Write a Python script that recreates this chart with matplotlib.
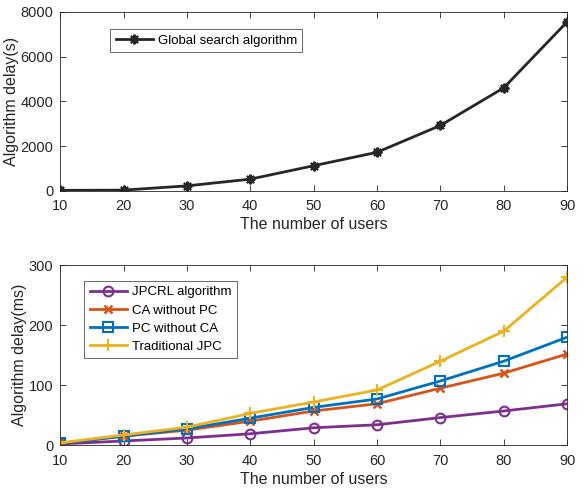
import matplotlib.pyplot as plt

users = [10, 20, 30, 40, 50, 60, 70, 80, 90]
global_search = [20, 30, 220, 520, 1120, 1720, 2920, 4600, 7550]

jpcrl = [2, 7, 12, 19, 29, 34, 46, 57, 69]
ca_without_pc = [3, 15, 25, 40, 57, 69, 95, 120, 152]
pc_without_ca = [3, 15, 27, 45, 63, 77, 107, 140, 180]
traditional_jpc = [4, 17, 30, 53, 72, 92, 140, 190, 280]

plt.rcParams['font.family'] = ['Liberation Sans Narrow', 'Liberation Sans', 'DejaVu Sans']

fig = plt.figure(figsize=(5.84, 4.93), dpi=100)
ax1 = fig.add_axes([0.103, 0.613, 0.868, 0.363])
ax2 = fig.add_axes([0.103, 0.097, 0.868, 0.365])


def estilo(ax):
    ax.tick_params(direction='in', top=True, right=True, length=4, width=0.6,
                   labelsize=10.5, colors='#262626')
    ax.tick_params(axis='x', pad=6)
    ax.tick_params(axis='y', pad=5)
    for s in ax.spines.values():
        s.set_linewidth(0.6)
        s.set_color('#262626')
    ax.set_xlim(10, 90)
    ax.set_xticks(users)
    ax.set_xlabel('The number of users', fontsize=11.5, color='#262626', labelpad=3)


ax1.plot(users, global_search, color='#262626', lw=2, marker=(8, 2, 0), ms=7,
         mew=1.5, label='Global search algorithm')
estilo(ax1)
ax1.set_ylim(0, 8000)
ax1.set_yticks([0, 2000, 4000, 6000, 8000])
ax1.set_ylabel('Algorithm delay(s)', fontsize=11.5, color='#262626', labelpad=1)
leg1 = ax1.legend(loc='upper left', bbox_to_anchor=(0.086, 0.94), fancybox=False,
                  edgecolor='#262626', fontsize=9.5, handlelength=2.8,
                  borderpad=0.4, handletextpad=0.4)
leg1.get_frame().set_linewidth(0.6)

ax2.plot(users, jpcrl, color='#7E2F8E', lw=2, marker='o', ms=7, mfc='none',
         mew=1.5, label='JPCRL algorithm')
ax2.plot(users, ca_without_pc, color='#D95319', lw=2, marker='x', ms=6,
         mew=1.8, label='CA without PC')
ax2.plot(users, pc_without_ca, color='#0072BD', lw=2, marker='s', ms=6.5,
         mfc='none', mew=1.5, label='PC without CA')
ax2.plot(users, traditional_jpc, color='#EDB120', lw=2, marker='+', ms=9,
         mew=1.5, label='Traditional JPC')
estilo(ax2)
ax2.set_ylim(0, 300)
ax2.set_yticks([0, 100, 200, 300])
ax2.set_ylabel('Algorithm delay(ms)', fontsize=11.5, color='#262626', labelpad=1)
leg2 = ax2.legend(loc='upper left', bbox_to_anchor=(0.035, 0.95), fancybox=False,
                  edgecolor='#262626', fontsize=9.5, handlelength=2.8,
                  borderpad=0.4, handletextpad=0.4, labelspacing=0.45)
leg2.get_frame().set_linewidth(0.6)

fig.savefig('out.png', dpi=100)
